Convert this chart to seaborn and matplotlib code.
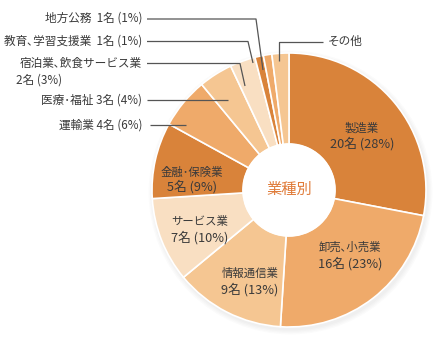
import matplotlib
matplotlib.use("Agg")
import matplotlib.pyplot as plt
from matplotlib.patches import Circle
import seaborn as sns

# Industry breakdown: names, head counts and shares (%)
industries = ["製造業", "卸売､小売業", "情報通信業", "サービス業", "金融･保険業",
              "運輸業", "医療･福祉", "宿泊業､飲食サービス業", "教育､学習支援業",
              "地方公務", "その他"]
counts = [20, 16, 9, 7, 5, 4, 3, 2, 1, 1, None]
shares = [28, 23, 13, 10, 9, 6, 4, 3, 1, 1, 2]
center_title = "業種別"

sns.set_style("white")
plt.rcParams["font.family"] = ["Noto Sans CJK JP", "DejaVu Sans"]

tones = sns.color_palette(["#D9833A", "#EFAA6A", "#F5C692", "#F9DFC2"])
colors = [tones[i % 4] for i in range(len(industries))]

W, H = 440, 350
fig = plt.figure(figsize=(W / 100, H / 100), dpi=100)
ax = fig.add_axes([0, 0, 1, 1])

cx, cy = 289, H - 190
R, r_in = 137, 46

# soft drop shadow under the ring
for k in range(4):
    ax.add_patch(Circle((cx + 1.5, cy - 2.5), R + 1 + k * 1.3, color="#808080",
                        alpha=0.03, lw=0, zorder=0))

ax.pie(shares, colors=colors, startangle=90, counterclock=False,
       center=(cx, cy), radius=R, frame=True,
       wedgeprops=dict(width=R - r_in, edgecolor="white", linewidth=1.2))
ax.add_patch(Circle((cx, cy), r_in + 0.5, color="white", lw=0, zorder=3))
ax.set_xlim(0, W)
ax.set_ylim(0, H)
ax.set_aspect("equal")
ax.axis("off")

ax.text(cx, cy + 1, center_title, ha="center", va="center",
        fontsize=11, color="#E07B39", zorder=4)

txt = "#3a3a3a"
def fmt(i):
    return f"{counts[i]}名 ({shares[i]}%)"

# labels inside the larger slices
inner = {0: (362, 128, 144), 1: (350, 247, 264), 2: (250, 273, 290),
         3: (200, 222, 238), 4: (192, 172, 187)}
for i, (x, y1, y2) in inner.items():
    ax.text(x, H - y1, industries[i], ha="center", va="center", fontsize=8.2, color=txt)
    ax.text(x, H - y2, fmt(i), ha="center", va="center", fontsize=9.2, color=txt)

# callouts for the small slices
lc = "#555555"
lw = 0.9
fs = 8.4
def line(pts):
    xs = [p[0] for p in pts]
    ys = [H - p[1] for p in pts]
    ax.plot(xs, ys, color=lc, lw=lw, solid_capstyle="butt", zorder=5)

line([(147, 19), (256, 19), (263, 70)])
ax.text(142, H - 18, f"{industries[9]}  {fmt(9)}", ha="right", va="center",
        fontsize=fs, color=txt)

line([(147, 41.5), (248, 41.5), (253, 63)])
ax.text(142, H - 41, f"{industries[8]}  {fmt(8)}", ha="right", va="center",
        fontsize=fs, color=txt)

line([(147, 63.5), (240, 63.5), (245, 86)])
ax.text(142, H - 63, industries[7], ha="right", va="center", fontsize=fs, color=txt)
ax.text(16, H - 80, fmt(7), ha="left", va="center", fontsize=fs, color=txt)

line([(147, 100), (228, 100)])
ax.text(142, H - 100, f"{industries[6]} {fmt(6)}", ha="right", va="center",
        fontsize=fs, color=txt)

line([(150, 125), (186, 125)])
ax.text(142, H - 125, f"{industries[5]} {fmt(5)}", ha="right", va="center",
        fontsize=fs, color=txt)

line([(279, 61), (279, 42), (323, 42)])
ax.text(328, H - 41, industries[10], ha="left", va="center", fontsize=fs, color=txt)

fig.savefig("out.png", dpi=100)
